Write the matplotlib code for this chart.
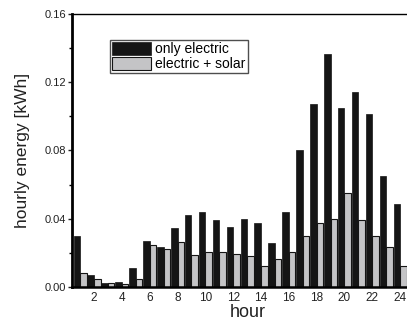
import matplotlib
matplotlib.use("Agg")
import matplotlib.pyplot as plt
import numpy as np

plt.rcParams['font.family'] = ['Liberation Sans', 'DejaVu Sans']

hours = np.arange(1, 25)
only_electric = [0.030, 0.007, 0.0025, 0.003, 0.011, 0.027, 0.0234, 0.0346,
                 0.0422, 0.0441, 0.0393, 0.0352, 0.0399, 0.0375, 0.0258, 0.044,
                 0.080, 0.107, 0.1366, 0.1047, 0.1143, 0.1015, 0.0652, 0.0487]
electric_solar = [0.008, 0.0045, 0.0025, 0.0018, 0.0047, 0.0246, 0.0223, 0.0264,
                  0.0188, 0.0203, 0.0203, 0.0192, 0.018, 0.0121, 0.0164, 0.0203,
                  0.0297, 0.0373, 0.0397, 0.0549, 0.0391, 0.0297, 0.0233, 0.0121]
xtick_labels = [2, 4, 6, 8, 10, 12, 14, 16, 18, 20, 22, 24]

fig = plt.figure(figsize=(4.07, 3.22), dpi=100)
ax = fig.add_axes([0.177, 0.109, 0.83, 0.848])

w = 0.47
ax.bar(hours, only_electric, width=-w, align="edge", color="#151515",
       edgecolor="#151515", linewidth=0.5, label="only electric")
ax.bar(hours, electric_solar, width=w, align="edge", color="#c4c4c6",
       edgecolor="#151515", linewidth=0.8, label="electric + solar")

ax.set_xlim(0.42, 24.7)
ax.set_ylim(0, 0.16)
ax.set_xticks(xtick_labels)
ax.set_yticks([0.0, 0.04, 0.08, 0.12, 0.16])
ax.set_yticklabels(["0.00", "0.04", "0.08", "0.12", "0.16"])
ax.set_yticks([0.02, 0.06, 0.10, 0.14], minor=True)
ax.tick_params(axis="x", length=0, labelsize=8.5, pad=4, colors="#222222")
ax.tick_params(axis="y", which="major", length=3, width=1, labelsize=8, pad=1,
               colors="#222222")
ax.tick_params(axis="y", which="minor", length=2, width=1)

ax.spines["right"].set_visible(False)
ax.spines["left"].set_linewidth(2)
ax.spines["bottom"].set_linewidth(1.8)
ax.spines["top"].set_linewidth(1)

ax.set_xlabel("hour", fontsize=13, color="#222222")
ax.xaxis.set_label_coords(0.52, -0.095)
ax.xaxis.label.set_va("center")
ax.set_ylabel("hourly energy [kWh]", fontsize=12.5, color="#222222")
ax.yaxis.set_label_coords(-0.148, 0.5)
ax.yaxis.label.set_va("center")

leg = ax.legend(loc="upper left", bbox_to_anchor=(0.113, 0.905), fontsize=10,
                frameon=True, fancybox=False, edgecolor="#222222",
                handlelength=2.8, handleheight=1.1, handletextpad=0.3,
                borderpad=0.15, labelspacing=0.05, borderaxespad=0)
leg.get_frame().set_linewidth(1)

fig.savefig("out.png", dpi=100)
